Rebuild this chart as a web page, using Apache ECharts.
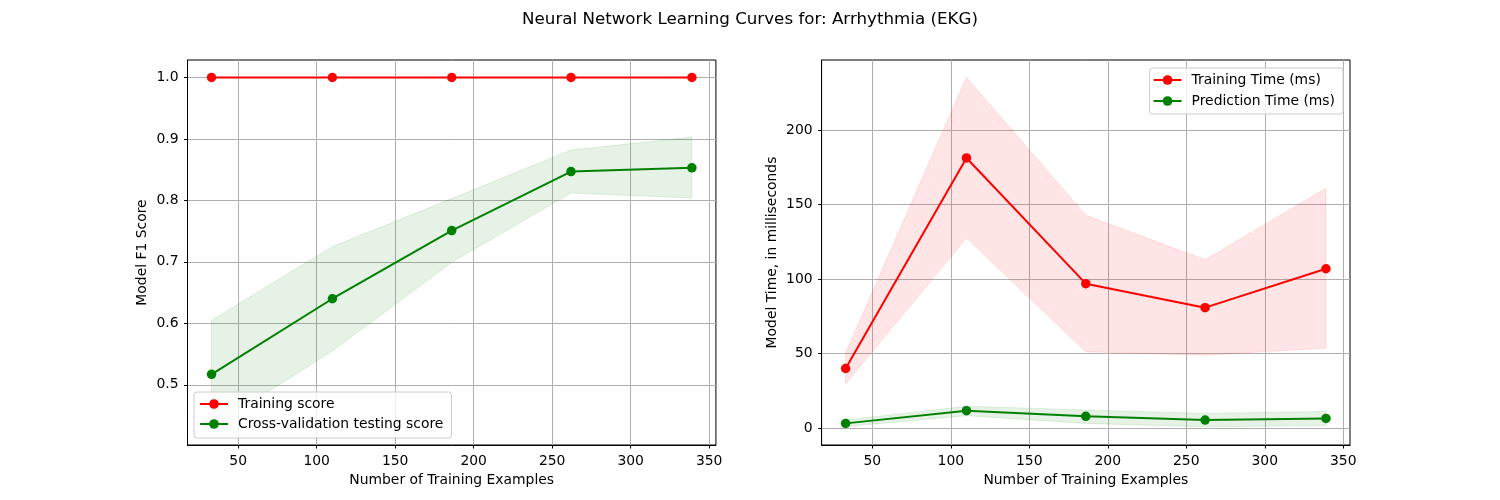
<!DOCTYPE html>
<html>
<head>
<meta charset="utf-8">
<script src="https://cdn.jsdelivr.net/npm/echarts@6/dist/echarts.min.js"></script>
<style>
html, body { margin: 0; padding: 0; background: #fff; }
#chart { width: 1500px; height: 500px; }
</style>
</head>
<body>
<div id="chart"></div>
<script>
// training set sizes, shared x of both panels
const trainSizes = [33, 110, 186, 262, 339];

// left panel: F1 score
const trainScore = [1.0, 1.0, 1.0, 1.0, 1.0];
const cvScore = [0.517, 0.640, 0.751, 0.847, 0.853];
const cvScoreLo = [0.430, 0.555, 0.699, 0.812, 0.804];
const cvScoreHi = [0.605, 0.725, 0.803, 0.882, 0.903];

// right panel: times in ms
const fitTime = [40.1, 181.3, 97.0, 80.9, 107.0];
const fitTimeLo = [29.8, 127.6, 51.4, 49.0, 53.8];
const fitTimeHi = [50.6, 235.2, 142.8, 113.0, 161.0];
const predTime = [3.3, 11.8, 8.0, 5.5, 6.6];
const predTimeLo = [1.2, 8.5, 3.3, 1.0, 1.8];
const predTimeHi = [5.6, 14.8, 12.3, 10.0, 11.3];

// tick labels
const xTicks = [50, 100, 150, 200, 250, 300, 350];
const scoreTicks = [0.5, 0.6, 0.7, 0.8, 0.9, 1.0];
const timeTicks = [0, 50, 100, 150, 200];

const RED = '#ff0000';
const GREEN = '#008000';
const FONT = 'DejaVu Sans';

function pts(ys) {
    return trainSizes.map((x, i) => [x, ys[i]]);
}

// shaded +/- std band, one polygon through all points (like fill_between)
function band(id, lo, hi, rgba, axis) {
    return {
        type: 'custom', name: id, xAxisIndex: axis, yAxisIndex: axis,
        silent: true, z: 1,
        data: trainSizes.map((x, i) => [x, lo[i], hi[i]]),
        encode: { x: 0, y: [1, 2] },
        renderItem: function (params, api) {
            if (params.dataIndex !== 0) return;
            let n = params.dataInsideLength;
            let upper = [], lower = [];
            for (let j = 0; j < n; j++) {
                upper.push(api.coord([api.value(0, j), api.value(2, j)]));
                lower.push(api.coord([api.value(0, j), api.value(1, j)]));
            }
            return {
                type: 'polygon',
                shape: { points: upper.concat(lower.reverse()) },
                style: { fill: rgba, stroke: rgba, lineWidth: 1 }
            };
        }
    };
}

function curve(name, ys, color, axis) {
    return {
        type: 'line', name: name, xAxisIndex: axis, yAxisIndex: axis,
        data: pts(ys), symbol: 'circle', symbolSize: 9.5, z: 3,
        lineStyle: { color: color, width: 2 },
        itemStyle: { color: color }
    };
}

function xAxis(idx) {
    return {
        type: 'value', gridIndex: idx, min: 17.7, max: 354.3,
        name: 'Number of Training Examples', nameLocation: 'middle', nameGap: 26,
        nameTextStyle: { color: '#000', fontSize: 13.9, fontFamily: FONT },
        axisLine: { show: true, onZero: false, lineStyle: { color: '#000', width: 1 } },
        axisTick: { show: true, length: 3.5, customValues: xTicks, lineStyle: { color: '#000', width: 1 } },
        axisLabel: { customValues: xTicks, margin: 9, color: '#000', fontSize: 13.9, fontFamily: FONT },
        splitLine: { show: true, lineStyle: { color: '#b0b0b0', width: 1 } }
    };
}

function yAxis(idx, name, min, max, ticks, gap, fmt) {
    return {
        type: 'value', gridIndex: idx, min: min, max: max,
        name: name, nameLocation: 'middle', nameGap: gap,
        nameTextStyle: { color: '#000', fontSize: 13.9, fontFamily: FONT },
        axisLine: { show: true, onZero: false, lineStyle: { color: '#000', width: 1 } },
        axisTick: { show: true, length: 3.5, customValues: ticks, lineStyle: { color: '#000', width: 1 } },
        axisLabel: { customValues: ticks, margin: 9, color: '#000', fontSize: 13.9, fontFamily: FONT, formatter: fmt },
        splitLine: { show: true, lineStyle: { color: '#b0b0b0', width: 1 } }
    };
}

const legendBase = {
    orient: 'vertical',
    itemWidth: 28,
    itemHeight: 12,
    backgroundColor: 'rgba(255,255,255,0.8)',
    borderColor: '#cccccc',
    borderWidth: 1,
    borderRadius: 3,
    textStyle: { color: '#000', fontSize: 13.9, fontFamily: FONT, lineHeight: 16, padding: [0, 0, 0, 5] }
};

let chart = echarts.init(document.getElementById('chart'), null, { renderer: 'canvas' });
let option = {
    animation: false,
    backgroundColor: '#fff',
    textStyle: { fontFamily: FONT },
    title: {
        text: 'Neural Network Learning Curves for: Arrhythmia (EKG)',
        left: 'center', top: 6,
        textStyle: { color: '#000', fontSize: 16.7, fontWeight: 'normal', fontFamily: FONT }
    },
    legend: [
        Object.assign({}, legendBase, {
            data: ['Training score', 'Cross-validation testing score'],
            left: 194, top: 392, itemGap: 4, padding: [4, 8, 6, 5]
        }),
        Object.assign({}, legendBase, {
            data: ['Training Time (ms)', 'Prediction Time (ms)'],
            right: 157, top: 68, itemGap: 5, padding: [4, 8, 5, 3]
        })
    ],
    grid: [
        { left: 187.5, top: 60, width: 528.4, height: 385, show: true, borderColor: '#000', borderWidth: 1, backgroundColor: 'transparent' },
        { left: 821.6, top: 60, width: 528.4, height: 385, show: true, borderColor: '#000', borderWidth: 1, backgroundColor: 'transparent' }
    ],
    xAxis: [xAxis(0), xAxis(1)],
    yAxis: [
        yAxis(0, 'Model F1 Score', 0.402, 1.0285, scoreTicks, 38, v => v.toFixed(1)),
        yAxis(1, 'Model Time, in milliseconds', -11.2, 247, timeTicks, 42, v => String(v))
    ],
    series: [
        band('cvBand', cvScoreLo, cvScoreHi, 'rgba(0,128,0,0.1)', 0),
        band('fitBand', fitTimeLo, fitTimeHi, 'rgba(255,0,0,0.1)', 1),
        band('predBand', predTimeLo, predTimeHi, 'rgba(0,128,0,0.1)', 1),
        curve('Training score', trainScore, RED, 0),
        curve('Cross-validation testing score', cvScore, GREEN, 0),
        curve('Training Time (ms)', fitTime, RED, 1),
        curve('Prediction Time (ms)', predTime, GREEN, 1)
    ]
};
option && chart.setOption(option);
</script>
</body>
</html>
